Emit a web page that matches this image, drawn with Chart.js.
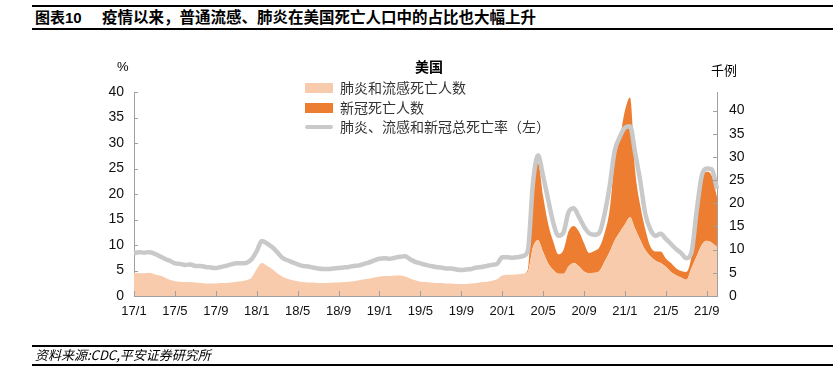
<!DOCTYPE html>
<html>
<head>
<meta charset="utf-8">
<script src="https://cdn.jsdelivr.net/npm/chart.js"></script>
<style>
  body { margin: 0; background: #fff; width: 839px; height: 387px; overflow: hidden; position: relative; font-family: "Liberation Sans", Arial, sans-serif; }
  #chart { position: absolute; left: 0; top: 0; }
  .t { position: absolute; white-space: nowrap; line-height: 1; }
  .rule { position: absolute; left: 32px; width: 801px; background: #000; }
  .cjk { font-family: "Noto Sans CJK SC", sans-serif; }
  .box { position: absolute; width: 28px; height: 10px; }
</style>
</head>
<body>
<div class="rule" style="top:5px;height:2px"></div>
<div class="t" style="left:35px;top:10px;font-size:15px;font-weight:bold;font-family:'Liberation Sans','Noto Sans CJK SC',sans-serif">图表10</div>
<div class="t cjk" style="left:102px;top:9px;font-size:15.5px;font-weight:bold">疫情以来，普通流感、肺炎在美国死亡人口中的占比也大幅上升</div>
<div class="rule" style="top:28px;height:2px"></div>

<canvas id="chart" width="839" height="387"></canvas>

<div class="t" style="left:117px;top:60px;font-size:13px">%</div>
<div class="t cjk" style="left:711px;top:63px;font-size:13px">千例</div>
<div class="t cjk" style="left:415px;top:59px;font-size:14px;font-weight:bold">美国</div>

<div id="legend"></div>

<div class="rule" style="top:345px;height:1.5px"></div>
<div class="t cjk" style="left:35px;top:348px;font-size:13px;font-style:italic">资料来源:CDC,平安证券研究所</div>
<div class="rule" style="top:364px;height:1.5px"></div>

<script>
// semi-monthly readings, Jan 2017 - Oct 2021
const periods = [];
for (let y = 2017; y <= 2021; y++) {
  for (let m = 1; m <= 12; m++) {
    periods.push(y + "-" + String(m).padStart(2, "0") + "-01");
    periods.push(y + "-" + String(m).padStart(2, "0") + "-16");
  }
}
periods.splice(115);

const tickLabels = ["17/1", "17/5", "17/9", "18/1", "18/5", "18/9", "19/1", "19/5",
  "19/9", "20/1", "20/5", "20/9", "21/1", "21/5", "21/9"];

// 肺炎、流感和新冠总死亡率 (%, left axis)
const totalRate = [
  8.4, 8.6, 8.5, 8.6, 8.3, 7.8, 7.3, 6.9, 6.4, 6.3,
  6.1, 6.2, 5.9, 5.9, 5.7, 5.6, 5.5, 5.7, 5.9, 6.2,
  6.4, 6.4, 6.5, 7.2, 8.8, 10.8, 10.3, 9.6, 8.6, 7.5,
  7.0, 6.6, 6.2, 5.9, 5.8, 5.6, 5.4, 5.3, 5.3, 5.4,
  5.5, 5.6, 5.7, 5.9, 6.0, 6.3, 6.6, 7.0, 7.3, 7.4,
  7.3, 7.5, 7.7, 7.8, 7.2, 6.7, 6.4, 6.1, 5.9, 5.7,
  5.6, 5.4, 5.4, 5.2, 5.1, 5.2, 5.3, 5.6, 5.7, 5.9,
  6.1, 6.3, 7.6, 7.6, 7.5, 7.6, 7.8, 8.8, 22.0, 27.6,
  23.5, 18.8, 14.3, 11.8, 12.5, 16.5, 17.2, 15.5, 13.6, 12.3,
  12.0, 12.4, 16.0, 21.5, 28.5, 31.2, 33.0, 33.3, 28.0, 22.5,
  16.0, 13.0, 11.8, 12.2, 11.2, 10.2, 9.2, 8.4, 7.4, 8.5,
  16.5, 23.5, 25.0, 24.8, 21.0
];

// 肺炎和流感死亡人数 (千例, right axis)
const pneuFlu = [
  5.0, 4.9, 4.9, 5.0, 4.7, 4.4, 4.0, 3.5, 3.2, 3.1,
  3.0, 3.0, 2.9, 2.8, 2.7, 2.7, 2.7, 2.8, 2.8, 2.9,
  3.1, 3.2, 3.4, 4.0, 5.8, 7.1, 6.5, 5.8, 4.9, 4.2,
  3.7, 3.4, 3.2, 3.0, 2.9, 2.9, 2.8, 2.8, 2.8, 2.9,
  2.9, 3.0, 3.1, 3.2, 3.4, 3.6, 3.8, 4.0, 4.2, 4.3,
  4.3, 4.4, 4.4, 4.2, 3.8, 3.4, 3.1, 3.0, 2.9, 2.8,
  2.8, 2.7, 2.7, 2.6, 2.6, 2.6, 2.7, 2.8, 3.0, 3.1,
  3.3, 3.6, 4.4, 4.6, 4.6, 4.7, 4.8, 5.2, 10.5, 12.0,
  9.5, 7.0, 5.6, 4.8, 4.8, 6.4, 7.1, 6.4, 5.3, 4.9,
  5.0, 5.4, 7.4, 9.5, 12.0, 13.8, 15.5, 17.0, 14.5, 12.1,
  9.9, 8.5, 7.6, 7.1, 6.3, 5.2, 4.5, 4.0, 3.5, 6.0,
  8.5, 11.0, 11.9, 11.5, 10.6
];

// 新冠死亡人数 (千例, right axis, stacked on top)
const covid = [
  0, 0, 0, 0, 0, 0, 0, 0, 0, 0,
  0, 0, 0, 0, 0, 0, 0, 0, 0, 0,
  0, 0, 0, 0, 0, 0, 0, 0, 0, 0,
  0, 0, 0, 0, 0, 0, 0, 0, 0, 0,
  0, 0, 0, 0, 0, 0, 0, 0, 0, 0,
  0, 0, 0, 0, 0, 0, 0, 0, 0, 0,
  0, 0, 0, 0, 0, 0, 0, 0, 0, 0,
  0, 0, 0, 0, 0, 0, 0, 0.4, 12.5, 16.7,
  12.0, 8.5, 6.1, 4.2, 5.2, 7.6, 8.0, 7.5, 6.1, 4.4,
  4.7, 5.1, 6.1, 9.0, 17.2, 20.2, 24.5, 25.8, 12.5, 7.4,
  4.4, 2.1, 2.0, 2.5, 1.8, 1.9, 1.5, 1.4, 1.7, 2.5,
  9.4, 14.1, 14.9, 14.4, 10.8
];

const peach = "#f8cbad";
const orange = "#ed7d31";
const grey = "#c9c9c9";
const axisGrey = "#a0a0a0";

// legend, drawn as html next to the chart title
const legendItems = [
  { text: "肺炎和流感死亡人数", color: peach, kind: "box" },
  { text: "新冠死亡人数", color: orange, kind: "box" },
  { text: "肺炎、流感和新冠总死亡率（左）", color: grey, kind: "line" }
];
const legend = document.getElementById("legend");
legendItems.forEach(function (item, i) {
  const y = 88 + i * 19.5;
  const mark = document.createElement("div");
  mark.className = "box";
  mark.style.left = "305px";
  mark.style.background = item.color;
  if (item.kind === "line") {
    mark.style.height = "4px";
    mark.style.borderRadius = "2px";
    mark.style.top = (y - 2) + "px";
  } else {
    mark.style.top = (y - 5) + "px";
  }
  legend.appendChild(mark);
  const label = document.createElement("div");
  label.className = "t cjk";
  label.style.left = "340px";
  label.style.top = (y - 8) + "px";
  label.style.fontSize = "14px";
  label.style.color = "#333";
  label.textContent = item.text;
  legend.appendChild(label);
});

// short tick marks pointing into the plot
const innerTicks = {
  id: "innerTicks",
  afterDraw(chart) {
    const ctx = chart.ctx;
    const a = chart.chartArea;
    ctx.save();
    ctx.strokeStyle = axisGrey;
    ctx.lineWidth = 1;
    ctx.beginPath();
    const ys = chart.scales.y;
    ys.ticks.forEach(function (t, i) {
      const p = Math.round(ys.getPixelForTick(i)) + 0.5;
      ctx.moveTo(a.left, p);
      ctx.lineTo(a.left + 4, p);
    });
    const y2 = chart.scales.y2;
    y2.ticks.forEach(function (t, i) {
      const p = Math.round(y2.getPixelForTick(i)) + 0.5;
      ctx.moveTo(a.right - 4, p);
      ctx.lineTo(a.right, p);
    });
    const xs = chart.scales.x;
    for (let i = 0; i < periods.length; i += 8) {
      const p = Math.round(xs.getPixelForValue(i)) + 0.5;
      ctx.moveTo(p, a.bottom);
      ctx.lineTo(p, a.bottom - 5);
    }
    ctx.stroke();
    ctx.restore();
  }
};

Chart.defaults.font.family = '"Liberation Sans", Arial, sans-serif';
Chart.defaults.color = "#111";

new Chart("chart", {
  type: "line",
  data: {
    labels: periods,
    datasets: [{
      label: "肺炎、流感和新冠总死亡率（左）",
      data: totalRate,
      yAxisID: "y",
      borderColor: grey,
      borderWidth: 4.5,
      pointRadius: 0,
      fill: false,
      cubicInterpolationMode: "monotone"
    }, {
      label: "肺炎和流感死亡人数",
      data: pneuFlu,
      yAxisID: "y2",
      backgroundColor: peach,
      borderColor: peach,
      borderWidth: 0,
      pointRadius: 0,
      fill: "origin",
      cubicInterpolationMode: "monotone"
    }, {
      label: "新冠死亡人数",
      data: covid,
      yAxisID: "y2",
      backgroundColor: orange,
      borderColor: orange,
      borderWidth: 0,
      pointRadius: 0,
      fill: "-1",
      cubicInterpolationMode: "monotone"
    }]
  },
  options: {
    responsive: false,
    animation: false,
    devicePixelRatio: 1,
    layout: { padding: { top: 92, left: 0, right: 0, bottom: 0 } },
    plugins: { legend: { display: false }, tooltip: { enabled: false } },
    scales: {
      x: {
        grid: { display: false, drawTicks: false },
        border: { display: true, color: axisGrey },
        ticks: {
          autoSkip: false,
          maxRotation: 0,
          padding: 8,
          font: { size: 13 },
          callback: function (v, i) { return i % 8 === 0 ? tickLabels[i / 8] : null; }
        },
        afterFit: function (s) { s.height = 91; }
      },
      y: {
        position: "left",
        min: 0,
        max: 40,
        grid: { display: false, drawTicks: false },
        border: { display: true, color: axisGrey },
        ticks: { stepSize: 5, padding: 10, font: { size: 14 } },
        afterFit: function (s) { s.width = 134; }
      },
      y2: {
        position: "right",
        stacked: true,
        min: 0,
        max: 44,
        grid: { display: false, drawTicks: false },
        border: { display: true, color: axisGrey },
        ticks: { stepSize: 5, padding: 12, font: { size: 14 } },
        afterBuildTicks: function (s) { s.ticks = s.ticks.filter(function (t) { return t.value % 5 === 0; }); },
        afterFit: function (s) { s.width = 122; }
      }
    }
  },
  plugins: [innerTicks]
});
</script>
</body>
</html>
